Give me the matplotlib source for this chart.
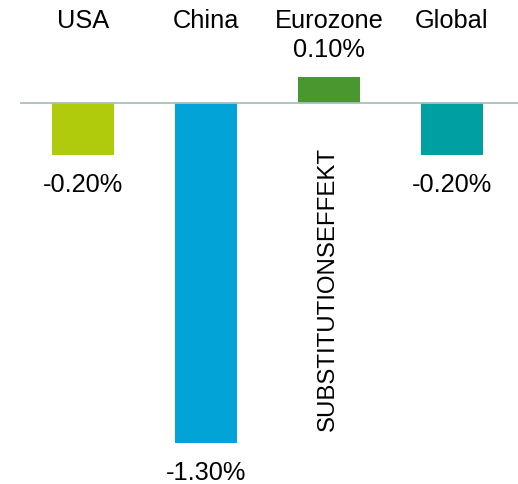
import matplotlib
matplotlib.use('Agg')
import matplotlib.pyplot as plt

plt.rcParams['font.family'] = ['Liberation Sans', 'DejaVu Sans']

#Data
regions = ['USA', 'China', 'Eurozone', 'Global']
effect = [-0.20, -1.30, 0.10, -0.20]
labels = ['-0.20%', '-1.30%', '0.10%', '-0.20%']
colors = ['#B0CB0C', '#02A4D8', '#4A972F', '#009FA2']
note = 'SUBSTITUTIONSEFFEKT'

fig = plt.figure(figsize=(5.18, 4.85), dpi=100)
ax = fig.add_axes([0, 0, 1, 1])

x = list(range(len(regions)))
ax.bar(x, effect, width=0.504, color=colors, zorder=2)

#baseline
ax.axhline(0, xmin=21/518, xmax=1, color='#A9BFC0', lw=1.3, zorder=3)

ax.set_xlim(-0.675, 3.537)
ax.set_ylim(-1.455, 0.396)

fs = 18.3

#category names on top
for i, name in enumerate(regions):
    ax.text(i, 0.315, name, ha='center', va='center', fontsize=fs)

#value labels
for i, (v, lab) in enumerate(zip(effect, labels)):
    if v < 0:
        ax.annotate(lab, (i, v), xytext=(0, -29), textcoords='offset pixels',
                    ha='center', va='center', fontsize=fs)
    else:
        ax.annotate(lab, (i, v), xytext=(0, 28), textcoords='offset pixels',
                    ha='center', va='center', fontsize=fs)

ax.text(1.995, -0.707, note, rotation=90, ha='center', va='center', fontsize=17.3)

ax.axis('off')
fig.savefig('out.png', dpi=100)
